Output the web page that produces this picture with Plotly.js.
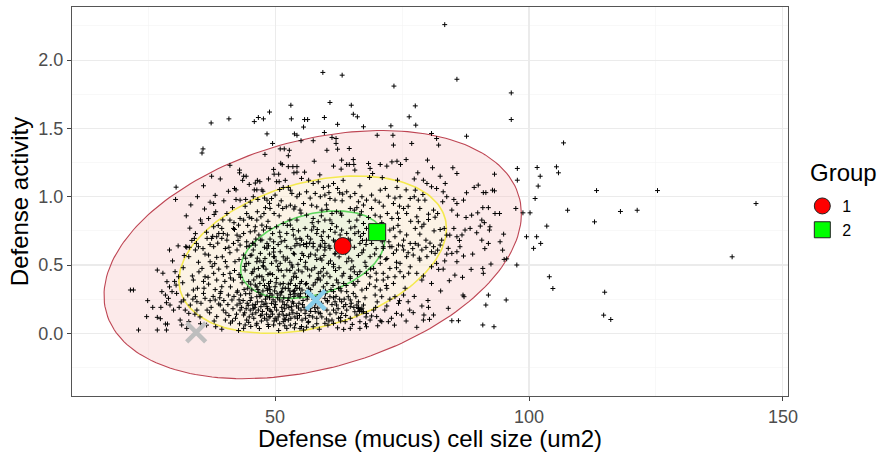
<!DOCTYPE html>
<html><head><meta charset="utf-8">
<script src="https://cdn.plot.ly/plotly-3.0.1.min.js"></script>
<style>html,body{margin:0;padding:0;background:#fff}#chart{width:879px;height:452px}</style>
</head><body><div id="chart"></div>
<script>
// ---- observed cells: [cell size (um2), defense activity] ----
const cellsTop = [
[83.4,2.26],[59.4,1.91],[63.2,1.89],[73.4,1.81],[85.8,1.86],[96.5,1.76],[53.1,1.67],[60.8,1.69],[65.0,1.67],[77.6,1.665],
[48.9,1.62],[37.4,1.54],[40.9,1.57],[45.9,1.55],[46.7,1.58],[47.7,1.57],[48.4,1.46],[53.2,1.57],[53.8,1.46],[54.3,1.45],
[35.8,1.35],[35.6,1.32],[49.5,1.39],[55.8,1.565],[56.4,1.565],[55.6,1.51],[55.1,1.41],[51.0,1.35],[51.8,1.35],[52.8,1.34],
[52.6,1.30],[48.0,1.31],[65.4,1.604],[66.2,1.585],[76.4,1.585],[77.7,1.524],[59.7,1.58],[62.3,1.53],[67.4,1.512],[72.8,1.519],
[96.5,1.565],[59.7,1.47],[61.2,1.434],[62.0,1.426],[62.0,1.39],[57.5,1.41],[60.2,1.34],[62.3,1.348],[64.6,1.353],[70.1,1.45],
[73.2,1.45],[73.3,1.378],[76.9,1.39],[80.8,1.463],[81.8,1.426],[82.2,1.378],[87.7,1.443],[106.8,1.394]
];
const cellsUpperLeft = [
[41.1,1.23],[43.0,1.195],[43.0,1.175],[43.8,1.15],[44.3,1.15],[43.6,1.12],[46.5,1.12],[47.0,1.11],[46.1,1.10],[47.4,1.05],
[49.7,1.2],[49.8,1.165],[50.7,1.165],[50.8,1.11],[50.3,1.11],[51.4,1.235],[51.1,1.245],[52.6,1.22],[53.5,1.22],[54.3,1.22],
[53.7,1.175],[54.3,1.18],[30.5,1.07],[30.4,0.98],[34.7,1.0],[37.5,1.15],[37.2,0.96],[37.9,0.95],[38.2,1.01],[36.9,0.84],
[38.3,0.89],[39.7,0.83],[42.0,1.06],[42.3,1.05],[42.3,0.98],[43.1,0.975],[44.2,0.98],[45.1,0.96],[45.9,1.05],[46.4,1.05],
[45.7,1.0],[47.6,1.04],[47.9,0.99],[34.3,0.73],[34.1,0.695],[37.9,0.78],[37.7,0.71],[36.6,0.695],[37.2,0.65],[32.6,0.63],
[33.1,0.63],[35.6,0.804],[40.5,0.877],[41.1,0.829],[39.5,0.695],[34.9,0.634],[40.2,0.621],
[48.4,0.975],[48.9,0.951],[49.3,0.987],[50.0,1.012],[50.9,1.053],[51.6,1.068],[52.6,1.068],[53.0,1.048],[53.3,1.024],[54.3,1.0],
[54.8,1.019],[54.9,0.902],[53.9,0.926],[53.0,0.938],[52.2,0.926],[51.5,0.914],[50.7,0.938],[49.8,0.877],[49.0,0.914],[47.8,0.877],
[47.2,0.853],[46.4,0.829],[47.4,0.792],[45.4,0.841],[44.4,0.877],[43.8,0.829],[43.1,0.841],[42.8,0.792],[41.8,0.768],[42.5,0.719],
[43.8,0.731],[45.1,0.743],[46.1,0.78],[47.7,0.756],[49.0,0.768],[50.3,0.78],[51.6,0.804],[53.0,0.792],[54.3,0.829],[54.9,0.695],
[53.6,0.719],[52.3,0.731],[51.0,0.707],[49.7,0.67],[48.4,0.658],[47.1,0.682],[45.6,0.658],[44.4,0.67],[43.1,0.646],[41.8,0.658],
[40.5,0.682],[39.8,0.731],[39.5,0.768],[38.5,0.707],[37.9,0.634],[49.7,0.621],[52.3,0.634],[54.3,0.658]
];
const cellsUpperRight = [
[57.7,1.26],[63.1,1.268],[64.1,1.236],[64.6,1.236],[65.4,1.272],[65.5,1.236],[61.5,1.224],[63.0,1.202],[65.7,1.195],[68.4,1.243],
[68.7,1.207],[69.2,1.17],[70.7,1.236],[72.0,1.224],[73.0,1.255],[74.0,1.26],[74.7,1.236],[75.8,1.272],[80.0,1.268],[81.0,1.212],
[78.1,1.175],[77.4,1.13],[74.1,1.121],[68.6,1.141],[85.0,1.212],[85.8,1.17],[83.5,1.097],[89.2,1.068],[91.0,1.03],[91.5,1.03],
[93.2,1.165],[97.7,1.207],[101.6,1.214],[97.7,1.121],[102.2,1.15],[101.8,1.078],[92.8,1.048],[93.2,1.043],[101.2,0.987],[97.4,0.914],
[98.8,0.882],[100.2,0.882],[103.5,0.785],[101.5,0.707],[99.5,0.707],[95.0,0.726],[93.3,0.877],[94.2,0.877],[92.0,0.92],[90.9,0.92],
[89.9,0.882],[88.7,0.865],[90.7,0.829],[91.2,0.81],[90.4,0.785],[92.3,0.78],[92.2,0.756],[87.7,1.029],[90.0,1.085],[87.1,0.975],
[85.8,0.95],[83.1,1.036],[83.8,1.0],[83.0,0.963],[85.2,0.98],[81.2,0.902],[82.0,0.877],[84.8,0.902],[85.9,0.865],[87.6,0.848],
[85.2,0.768],[84.4,0.719],[85.8,0.707],[87.4,0.756],[88.4,0.768],[89.7,0.736],[82.5,0.76],[83.3,0.768],[82.8,0.682],[83.8,0.719],
[90.7,0.682],[92.0,0.658],[94.3,0.67],[79.2,1.121],[79.9,1.097],[79.1,1.016],[78.2,0.975],[80.8,1.073],[81.8,1.06],[77.6,1.048],
[77.4,1.0],[76.6,0.987],[79.5,0.975],[80.2,0.872],[78.5,0.914],[77.9,0.853],[78.2,0.817],[79.3,0.799],[80.2,0.833],[77.6,0.768],
[78.5,0.726],[79.7,0.682],[75.3,0.914],[75.9,0.877],[74.3,0.841],[70.7,1.048],[71.7,1.06],[74.0,1.068],[72.3,1.004],[74.6,1.0],
[73.3,0.95],[74.5,0.931],[69.0,1.012],[69.7,0.975],[68.0,0.975],[67.1,1.0],[66.4,0.963],[65.7,1.024],[64.8,1.0],[64.1,1.036],
[63.3,1.019],[62.7,1.029],[67.4,0.939],[69.0,0.914],[71.3,0.931],[72.1,0.877],[73.0,0.841],[70.7,0.853],[69.7,0.865],[68.4,0.848],
[66.7,0.865],[65.6,0.902],[64.8,0.914],
[55.2,1.134],[56.6,1.121],[57.5,1.097],[58.5,1.109],[59.5,1.068],[60.5,1.078],[61.5,1.097],[62.3,1.06],[56.2,1.036],[57.9,1.024],
[58.9,1.0],[59.8,1.012],[60.8,0.987],[61.8,0.975],[55.6,0.95],[57.2,0.938],[58.2,0.926],[59.2,0.902],[60.2,0.907],[61.2,0.877],
[62.1,0.89],[63.1,0.865],[56.2,0.865],[57.5,0.841],[58.5,0.817],[59.8,0.829],[61.2,0.804],[62.1,0.78],[63.1,0.756],[55.9,0.768],
[57.2,0.756],[58.2,0.731],[59.5,0.743],[60.5,0.707],[61.5,0.682],[64.1,0.731],[64.8,0.682],[65.7,0.78],[66.4,0.743],[67.4,0.804],
[68.0,0.768],[66.1,0.829],[67.4,0.731],[66.7,0.658],[68.0,0.682],[69.0,0.658],[70.0,0.695],[71.3,0.719],[72.6,0.756],[73.6,0.707],
[74.6,0.743],[75.3,0.682],[76.6,0.658],[73.0,0.634],[71.3,0.634],[55.2,0.682],[56.2,0.634],[57.5,0.658],[58.9,0.634],[59.8,0.658],
[64.1,0.646]
];
const cellsLowerRight = [
[102.3,0.658],[100.9,0.622],[97.6,0.5],[104.0,0.414],[90.9,0.475],[91.0,0.439],[88.6,0.468],[85.4,0.426],[84.3,0.385],[92.5,0.507],
[95.1,0.541],[94.8,0.609],[95.5,0.244],[92.0,0.28],[91.5,0.207],[90.9,0.061],[93.1,0.048],[87.0,0.28],[87.2,0.268],[84.1,0.183],
[84.8,0.092],[86.1,0.092],[80.8,0.365],[77.9,0.044],[79.2,0.097],[80.4,0.102],[79.3,0.134],[81.2,0.134],[80.2,0.19],[78.9,0.2],
[77.2,0.151],[76.2,0.231],[73.9,0.146],[74.9,0.134],[74.3,0.219],[72.0,0.2],[70.7,0.092],[71.0,0.085],[72.3,0.085],[68.7,0.097],
[69.0,0.127],[66.7,0.036],[63.5,0.029],[66.6,0.17],[67.1,0.158],[66.4,0.182],[64.8,0.244],[65.9,0.268],[75.3,0.28],[74.5,0.239],
[73.6,0.268],[69.7,0.28],[70.7,0.317],[72.0,0.329],[73.3,0.365],[75.3,0.414],[74.6,0.451],[70.0,0.39],[68.7,0.414],[71.3,0.439],
[80.8,0.487],[81.8,0.512],[82.2,0.468],[80.8,0.597],[81.5,0.585],[82.0,0.609],[81.2,0.634],[82.5,0.646],[83.8,0.58],[84.1,0.622],
[84.8,0.585],[85.8,0.597],[86.4,0.634],[87.1,0.566],[85.8,0.524],[77.6,0.658],[78.2,0.646],[78.9,0.61],[79.7,0.629],[74.3,0.646],
[75.3,0.61],[73.3,0.585],[72.0,0.548],[70.7,0.512],[69.4,0.475],[68.7,0.561],[67.4,0.61],[68.0,0.439],[66.7,0.451],[65.4,0.487],
[64.1,0.524],[64.8,0.402],[65.7,0.353],[67.1,0.317],[68.0,0.329],[64.1,0.305],[62.8,0.329],[66.4,0.231],[67.4,0.207],[68.0,0.146],
[64.1,0.17],[62.1,0.207],[61.2,0.097],[61.5,0.073],[62.5,0.11],[63.1,0.146],
[56.2,0.658],[57.5,0.634],[58.9,0.646],[59.8,0.61],[60.8,0.622],[61.8,0.585],[55.3,0.585],[56.6,0.561],[57.9,0.573],[59.2,0.536],
[60.5,0.512],[61.5,0.487],[55.9,0.487],[57.2,0.463],[58.5,0.439],[59.5,0.475],[60.8,0.414],[62.1,0.39],[63.5,0.439],[64.8,0.414],
[65.4,0.365],[63.5,0.365],[62.5,0.329],[61.5,0.305],[60.2,0.365],[58.9,0.39],[57.5,0.353],[56.2,0.365],[55.3,0.317],[56.9,0.292],
[58.9,0.305],[59.8,0.256],[60.8,0.268],[61.8,0.231],[63.1,0.231],[64.4,0.268],[65.4,0.292],[64.8,0.195],[65.7,0.158],[67.1,0.183],
[66.1,0.134],[63.5,0.195],[61.5,0.17],[60.2,0.17],[58.9,0.146],[56.9,0.183],[55.9,0.146],[55.3,0.097],[56.6,0.085],[58.2,0.11],
[59.8,0.073],[57.5,0.048],[55.6,0.024],[63.8,0.085],[64.8,0.11],[66.7,0.085],[66.1,0.207],[67.4,0.158],
[71.3,0.622],[72.6,0.634],[73.9,0.61],[75.9,0.561],[77.2,0.573],[78.5,0.536],[79.9,0.561],[74.6,0.512],[76.6,0.487],[77.9,0.439],
[72.6,0.475],[73.6,0.414],[71.3,0.39],[69.7,0.341],[71.0,0.268],[69.4,0.17],[71.6,0.17],[70.0,0.122],[68.0,0.048],[64.8,0.036],
[66.4,0.19],[66.9,0.175],[66.6,0.16]
];
const cellsFarRight = [
[105.4,1.219],[105.8,1.175],[113.3,1.045],[125.3,1.045],[144.7,0.95],[107.6,0.901],[112.9,0.816],[118.0,0.892],[121.3,0.901],[95.6,0.545],
[140.0,0.56],[104.7,0.328],[114.9,0.301],[114.7,0.133],[116.1,0.101]
];
const cellsLowerLeft = [
[21.5,0.317],[22.1,0.317],[23.1,0.024],[24.9,0.239],[24.7,0.122],[26.8,0.463],[25.9,0.19],[26.8,0.117],[27.4,0.107],[26.8,0.024],
[28.4,0.068],[28.8,0.068],[28.6,0.024],[27.5,0.19],[28.7,0.378],[29.2,0.61],[27.7,0.305],[28.4,0.28],[29.0,0.256],[29.7,0.305],
[28.6,0.224],[29.3,0.207],[30.0,0.17],[31.3,0.097],[31.6,0.061],[32.6,0.036],[33.0,0.085],[30.6,0.292],[30.3,0.451],[31.0,0.414],
[30.5,0.353],[32.0,0.244],[32.3,0.17],[33.0,0.146],[33.3,0.207],[32.4,0.634],[33.0,0.561],[33.9,0.317],[34.3,0.268],[34.6,0.231],
[33.9,0.39],[35.6,0.475],[36.2,0.414],[34.6,0.17],[34.3,0.61],[34.5,0.658],[35.9,0.292],[36.2,0.256],[37.2,0.239],[36.6,0.17],
[36.9,0.573],[37.2,0.524],[38.5,0.556],[37.5,0.695],[38.9,0.731],[37.9,0.439],[38.5,0.39],[39.5,0.341],[39.2,0.292],[38.2,0.244],
[39.2,0.207],[39.8,0.17],[38.5,0.122],[40.2,0.097],[38.3,0.048],[40.5,0.487],[41.1,0.439],[41.8,0.39],[40.8,0.28],[41.5,0.244],
[42.5,0.207],[43.1,0.17],[42.1,0.524],[42.5,0.61],[43.1,0.707],[43.8,0.573],[44.8,0.512],[43.8,0.134],[44.4,0.097],[45.1,0.17],
[45.6,0.207],[43.8,0.036],[44.1,0.061],[46.4,0.414],[47.0,0.365],[47.7,0.39],[48.4,0.329],[49.0,0.292],[45.4,0.317],[46.4,0.268],
[47.4,0.231],[48.4,0.195],[49.3,0.219],[50.3,0.17],[47.4,0.134],[49.0,0.122],[50.3,0.097],[51.6,0.134],[52.6,0.097],[49.7,0.061],
[52.3,0.036],[54.9,0.036],[50.9,0.244],[52.3,0.207],[53.3,0.17],[54.3,0.146],[54.9,0.268],[53.6,0.305],[52.6,0.329],[51.6,0.365],
[50.3,0.402],[49.0,0.439],[47.7,0.487],[46.4,0.524],[45.4,0.573],[46.1,0.646],[47.4,0.683],[48.4,0.622],[49.7,0.561],[51.0,0.512],
[52.3,0.463],[53.6,0.414],[54.9,0.365],[44.4,0.634],[45.7,0.61],[47.1,0.585],[51.0,0.597],[53.6,0.585],[54.9,0.646],[44.1,0.463],
[45.4,0.439],[46.7,0.475],[48.0,0.548],[49.3,0.512],[50.7,0.463],[52.0,0.536],[53.3,0.5],[54.6,0.463],[44.8,0.378],[46.1,0.353],
[47.4,0.414],[48.7,0.365],[50.0,0.341],[51.3,0.305],[53.0,0.365],[54.3,0.329],[49.0,0.17],[51.6,0.085],[46.4,0.073],[48.4,0.097],
[44.5,0.22],[45.3,0.26],[46.0,0.19],[46.8,0.3],[47.5,0.16],[48.1,0.25],[48.8,0.12],[49.4,0.28],[50.1,0.21],[50.8,0.14],
[51.2,0.3],[51.9,0.18],[52.5,0.24],[53.1,0.11],[53.7,0.27],[54.2,0.2],[54.8,0.13],[55.5,0.24],[56.1,0.17],[56.8,0.28],
[57.4,0.12],[58.0,0.22],[45.8,0.11],[47.0,0.27],[48.5,0.18],[49.8,0.09],[51.5,0.23],[52.9,0.31],[54.0,0.07],[55.0,0.29],
[56.5,0.08],[57.8,0.19],[43.2,0.28],[42.5,0.3],[44.0,0.15],[46.5,0.23],[50.5,0.26],[53.5,0.15],[49.0,0.32],[52.0,0.1]
];
// densest part of the cloud (inside the yellow ellipse), read band by band
const cellsCore = [
[36.5,0.06],[39.5,0.03],[41.2,0.075],[42.8,0.02],[45.2,0.05],[46.9,0.035],[48.6,0.065],[50.7,0.02],[51.9,0.055],[53.8,0.04],
[56.2,0.045],[58.7,0.03],[60.4,0.06],[62.3,0.04],[65.2,0.065],[67.8,0.07],[70.2,0.055],[73.5,0.06],[75.8,0.09],[62.9,0.09],
[35.2,0.12],[37.1,0.15],[40.9,0.13],[42.2,0.11],[43.4,0.19],[44.9,0.12],[46.2,0.15],[47.9,0.11],[49.2,0.16],[50.6,0.12],
[51.3,0.19],[52.8,0.14],[53.9,0.12],[55.1,0.17],[56.7,0.13],[57.9,0.16],[59.2,0.12],[60.8,0.14],[62.4,0.18],[63.9,0.13],
[65.5,0.19],[67.9,0.12],[69.8,0.19],[72.9,0.11],[76.5,0.17],[41.7,0.18],[45.7,0.18],[48.3,0.14],[51.8,0.105],[54.6,0.185],
[58.4,0.185],[60.1,0.105],[62.9,0.115],[47.2,0.195],[53.2,0.195],
[31.5,0.23],[33.8,0.25],[35.4,0.22],[37.8,0.27],[39.9,0.24],[40.7,0.21],[41.9,0.27],[43.1,0.22],[44.2,0.29],[45.1,0.24],
[46.1,0.21],[47.2,0.28],[48.2,0.22],[48.9,0.26],[50.0,0.23],[51.0,0.28],[51.8,0.21],[52.7,0.26],[53.6,0.22],[54.5,0.28],
[55.4,0.21],[56.3,0.25],[57.2,0.21],[58.3,0.27],[59.1,0.22],[60.3,0.24],[62.0,0.27],[63.6,0.25],[65.0,0.22],[67.7,0.26],
[70.1,0.23],[72.6,0.25],[77.4,0.27],[80.1,0.24],[44.7,0.205],[49.6,0.245],[53.0,0.285],[56.0,0.295],[42.9,0.245],[38.9,0.215],
[29.2,0.34],[31.8,0.37],[34.7,0.33],[36.9,0.36],[38.2,0.32],[40.1,0.38],[41.2,0.34],[42.6,0.31],[43.5,0.37],[44.6,0.33],
[45.8,0.39],[46.6,0.32],[47.9,0.35],[49.1,0.38],[49.9,0.31],[51.0,0.36],[52.0,0.33],[53.2,0.39],[54.0,0.35],[55.2,0.38],
[56.6,0.33],[57.9,0.37],[59.5,0.34],[61.0,0.32],[62.4,0.37],[64.0,0.35],[66.3,0.38],[68.6,0.36],[71.9,0.35],[75.6,0.33],
[78.9,0.39],[82.6,0.31],[35.9,0.38],[39.3,0.305],[48.5,0.315],[53.8,0.315],[58.3,0.395],[63.0,0.31],
[27.9,0.44],[31.9,0.48],[33.7,0.42],[35.0,0.45],[36.8,0.41],[38.9,0.47],[39.8,0.43],[42.0,0.46],[43.2,0.41],[44.0,0.49],
[45.6,0.45],[46.9,0.42],[48.2,0.47],[49.5,0.43],[50.5,0.49],[51.7,0.42],[52.9,0.46],[54.2,0.41],[55.3,0.45],[56.8,0.42],
[57.8,0.48],[59.0,0.45],[60.2,0.44],[61.9,0.46],[63.2,0.42],[64.9,0.47],[66.2,0.43],[67.9,0.49],[69.9,0.44],[72.2,0.41],
[73.9,0.48],[76.3,0.44],[79.2,0.42],[83.1,0.47],[86.9,0.41],[37.6,0.49],[41.2,0.405],[47.6,0.495],[53.4,0.485],[58.6,0.405],
[29.8,0.53],[32.1,0.57],[34.9,0.52],[36.2,0.58],[38.1,0.51],[39.6,0.56],[41.1,0.59],[42.9,0.54],[44.3,0.51],[45.1,0.57],
[46.5,0.55],[47.7,0.52],[48.9,0.58],[50.2,0.53],[51.6,0.56],[52.9,0.52],[53.8,0.58],[55.0,0.54],[56.0,0.52],[57.0,0.58],
[58.2,0.54],[59.6,0.57],[60.9,0.53],[62.6,0.56],[63.9,0.59],[65.1,0.53],[66.4,0.57],[67.7,0.52],[69.6,0.58],[71.8,0.54],
[73.9,0.52],[76.2,0.59],[78.4,0.55],[83.4,0.53],[88.9,0.58],[40.2,0.525],[49.7,0.595],[54.5,0.505],[61.5,0.505],
[30.9,0.64],[33.6,0.68],[35.8,0.62],[38.7,0.66],[40.9,0.63],[42.7,0.68],[44.9,0.64],[46.2,0.69],[47.9,0.63],[49.0,0.69],
[50.6,0.65],[51.9,0.68],[53.1,0.62],[54.1,0.69],[55.6,0.65],[57.0,0.69],[58.3,0.61],[59.3,0.68],[60.6,0.64],[62.3,0.61],
[63.3,0.67],[65.6,0.63],[67.2,0.68],[69.9,0.62],[72.4,0.67],[75.1,0.64],[77.1,0.62],[80.5,0.66],[86.3,0.68],[91.3,0.62],
[33.2,0.77],[36.5,0.74],[38.8,0.79],[40.6,0.72],[42.0,0.76],[44.6,0.79],[46.8,0.72],[48.3,0.78],[50.9,0.74],[52.4,0.79],
[54.6,0.75],[56.4,0.71],[57.6,0.78],[59.1,0.71],[60.9,0.76],[62.8,0.72],[64.9,0.77],[66.8,0.71],[69.1,0.76],[70.9,0.79],
[73.3,0.77],[75.9,0.72],[78.9,0.78],[81.3,0.75],[86.8,0.72],
[32.5,0.86],[35.3,0.83],[38.0,0.87],[41.9,0.81],[44.9,0.85],[46.5,0.89],[48.6,0.82],[50.8,0.86],[52.9,0.83],[55.1,0.88],
[57.3,0.81],[59.1,0.86],[60.8,0.83],[62.9,0.88],[64.6,0.82],[67.0,0.89],[71.0,0.81],[74.1,0.88],[76.7,0.82],[81.5,0.85],
[33.4,0.94],[36.1,0.91],[39.9,0.97],[41.6,0.92],[44.1,0.93],[46.6,0.98],[48.1,0.92],[51.2,0.97],[53.7,0.91],[56.9,0.99],
[60.1,0.94],[63.2,0.97],[66.1,0.92],[70.5,0.96],[73.6,0.99],[76.2,0.93],
[35.9,1.08],[39.2,1.13],[40.8,1.04],[44.9,1.09],[48.7,1.13],[52.0,1.12],[55.8,1.18],[58.8,1.16],[60.6,1.03],[63.4,1.12],
[66.7,1.08],[71.1,1.14],[75.8,1.05],[82.5,1.15]
];
// darkest mass below the group means
const cellsMass = [
[41.6,0.09],[42.4,0.14],[43.0,0.07],[43.7,0.24],[44.3,0.18],[45.0,0.29],[45.5,0.14],[46.3,0.06],[46.7,0.17],[47.3,0.09],
[47.8,0.21],[48.4,0.27],[48.7,0.05],[49.5,0.14],[49.9,0.19],[50.4,0.29],[50.9,0.07],[51.4,0.16],[51.7,0.26],[52.2,0.13],
[52.7,0.19],[53.0,0.06],[53.4,0.23],[53.9,0.29],[54.4,0.11],[54.7,0.22],[55.2,0.05],[55.7,0.19],[56.0,0.11],[56.4,0.27],
[57.0,0.16],[57.6,0.25],[58.2,0.07],[58.6,0.15],[59.4,0.19],[59.9,0.29],[60.6,0.09],[61.2,0.21],[62.0,0.15],[62.7,0.25],
[43.9,0.32],[45.2,0.36],[46.4,0.34],[47.6,0.31],[48.9,0.34],[50.2,0.37],[51.5,0.33],[52.6,0.36],[54.8,0.33],[56.0,0.36],
[40.3,0.15],[39.1,0.26],[37.4,0.19],[36.0,0.33],[34.2,0.14],[32.8,0.28],[31.1,0.19],[30.2,0.38],[35.3,0.07],[38.0,0.09],
[42.9,0.43],[45.9,0.47],[48.6,0.43],[51.2,0.46],[53.9,0.44],[56.4,0.47],[59.5,0.42],[62.6,0.48],[65.6,0.45],[68.8,0.47],
[44.2,0.55],[47.0,0.53],[49.9,0.56],[52.4,0.55],[55.6,0.57],[58.9,0.55],[61.8,0.58],[64.5,0.55],[67.1,0.59],[70.7,0.56],
[45.6,0.66],[48.7,0.64],[51.2,0.67],[53.9,0.64],[56.8,0.66],[59.8,0.63],[61.8,0.67],[64.4,0.69],[67.9,0.65],[71.1,0.67],
[46.0,0.75],[49.5,0.73],[53.5,0.76],[58.3,0.76],[61.8,0.74],[65.7,0.73],[70.2,0.74],[74.2,0.79],
[60.3,0.23],[61.5,0.26],[63.9,0.21],[58.6,0.26],[57.0,0.32],[59.9,0.31],[61.4,0.35],[44.8,0.08],[47.1,0.13],[50.0,0.11]
];

// ---- group means / reference markers ----
const groupNames = ['1', '2'];
const groupSize = [63.3, 70.1];
const groupActivity = [0.639, 0.741];
const refSize = [34.45, 58.0];
const refActivity = [0.007, 0.244];

// ---- confidence ellipses (outer -> inner) ----
const ellipseCenter = [57.4, 0.576];
const ellipseRx = [41.1, 26.34, 14.21];
const ellipseRy = [0.9086, 0.5757, 0.3204];
const ellipseRho = 0.33;

// ---- axes ----
const xTicks = [50, 100, 150];
const xMinor = [25, 75, 125];
const yTicks = [0, 0.5, 1, 1.5, 2];
const yTickText = ['0.0', '0.5', '1.0', '1.5', '2.0'];
const yMinor = [-0.25, 0.25, 0.75, 1.25, 1.75, 2.25];

const allCells = [].concat(cellsTop, cellsUpperLeft, cellsUpperRight, cellsLowerRight, cellsFarRight, cellsLowerLeft, cellsCore, cellsMass);
const cellSize = allCells.map(p => p[0]);
const activity = allCells.map(p => p[1]);

function ellipse(k, n) {
  const xs = [], ys = [];
  const s = Math.sqrt(1 - ellipseRho * ellipseRho);
  for (let i = 0; i <= n; i++) {
    const t = 2 * Math.PI * i / n;
    xs.push(ellipseCenter[0] + ellipseRx[k] * Math.cos(t));
    ys.push(ellipseCenter[1] + ellipseRy[k] * (ellipseRho * Math.cos(t) + s * Math.sin(t)));
  }
  return {xs, ys};
}
const eLine = ['#BE4553', '#F4E94E', '#5ED65E'];
const eFill = ['rgba(245,185,185,0.3)', 'rgba(252,252,226,0.5)', 'rgba(224,245,216,0.5)'];

const traces = [];
for (let k = 0; k < 3; k++) {
  const e = ellipse(k, 200);
  traces.push({x: e.xs, y: e.ys, type: 'scatter', mode: 'lines', fill: 'toself',
    fillcolor: eFill[k], line: {color: eLine[k], width: k === 0 ? 1.1 : 1.6},
    showlegend: false, hoverinfo: 'skip'});
}
traces.push({x: cellSize, y: activity, type: 'scatter', mode: 'markers', showlegend: false,
  marker: {symbol: 'cross-thin-open', size: 3.5, color: '#000', line: {color: '#000', width: 1}}, hoverinfo: 'skip'});
traces.push({x: [refSize[0]], y: [refActivity[0]], type: 'scatter', mode: 'markers', showlegend: false,
  marker: {symbol: 'x-thin-open', size: 19, color: '#BEBEBE', line: {color: '#BEBEBE', width: 4.5}}, hoverinfo: 'skip'});
traces.push({x: [refSize[1]], y: [refActivity[1]], type: 'scatter', mode: 'markers', showlegend: false,
  marker: {symbol: 'x-thin-open', size: 19, color: '#87CEEB', line: {color: '#87CEEB', width: 4.5}}, hoverinfo: 'skip'});
traces.push({x: [groupSize[0]], y: [groupActivity[0]], type: 'scatter', mode: 'markers', name: groupNames[0],
  marker: {symbol: 'circle', size: 17, color: '#FF0000', line: {color: '#222', width: 1}}});
traces.push({x: [groupSize[1]], y: [groupActivity[1]], type: 'scatter', mode: 'markers', name: groupNames[1],
  marker: {symbol: 'square', size: 17, color: '#00FF00', line: {color: '#222', width: 1}}});

const font = 'Liberation Sans, Arial, sans-serif';
const layout = {
  width: 879, height: 452,
  margin: {l: 72, r: 91, t: 7, b: 56},
  paper_bgcolor: '#fff', plot_bgcolor: '#fff',
  font: {family: font, color: '#000'},
  hovermode: false,
  xaxis: {
    range: [10.0, 151.0], tickmode: 'array', tickvals: xTicks, ticktext: xTicks.map(String),
    showgrid: true, gridcolor: '#EBEBEB', gridwidth: 1.1, zeroline: false,
    minor: {tickmode: 'array', tickvals: xMinor, showgrid: true, gridcolor: '#F3F3F3', gridwidth: 0.6, ticks: ''},
    ticks: 'outside', ticklen: 4, tickwidth: 1, tickcolor: '#444',
    tickfont: {size: 18, color: '#4D4D4D', family: font},
    showline: true, linecolor: '#555', linewidth: 1, mirror: true,
    title: {text: 'Defense (mucus) cell size (um2)', font: {size: 24, color: '#000', family: font}, standoff: 2}
  },
  yaxis: {
    range: [-0.459, 2.389], tickmode: 'array', tickvals: yTicks, ticktext: yTickText,
    showgrid: true, gridcolor: '#EBEBEB', gridwidth: 1.1, zeroline: false,
    minor: {tickmode: 'array', tickvals: yMinor, showgrid: true, gridcolor: '#F3F3F3', gridwidth: 0.6, ticks: ''},
    ticks: 'outside', ticklen: 4, tickwidth: 1, tickcolor: '#444',
    tickfont: {size: 18, color: '#4D4D4D', family: font},
    showline: true, linecolor: '#555', linewidth: 1, mirror: true,
    title: {text: 'Defense activity', font: {size: 24, color: '#000', family: font}, standoff: 2}
  },
  legend: {
    font: {size: 16, color: '#000', family: font},
    x: 1.02, xanchor: 'left', y: 0.532, yanchor: 'top',
    bgcolor: 'rgba(0,0,0,0)', borderwidth: 0
  },
  annotations: [{
    text: 'Group', xref: 'paper', yref: 'paper', x: 1.028, y: 0.575, xanchor: 'left', yanchor: 'middle',
    showarrow: false, font: {size: 24, color: '#000', family: font}
  }],
  showlegend: true
};
Plotly.newPlot('chart', traces, layout, {displayModeBar: false, staticPlot: true});
</script>
</body></html>
